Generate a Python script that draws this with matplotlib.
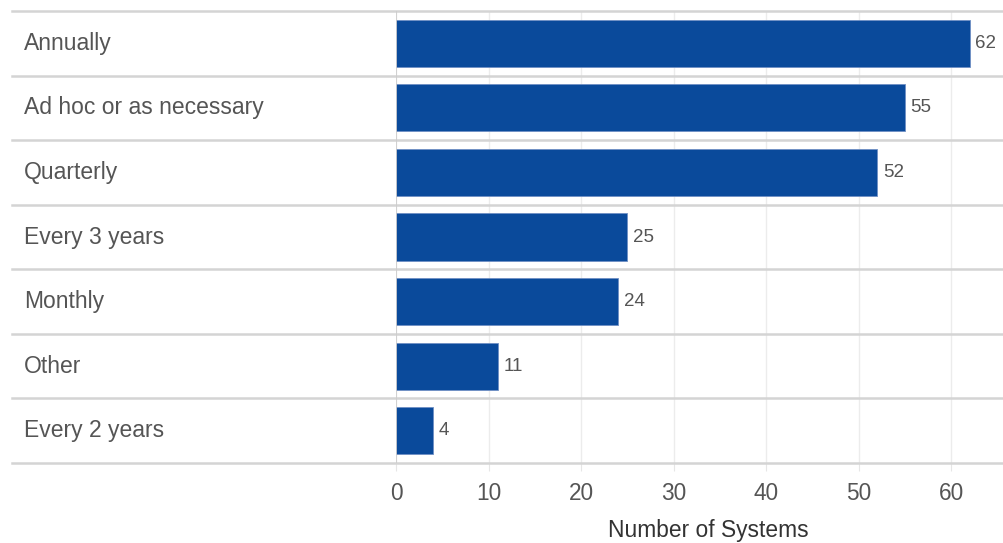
import matplotlib.pyplot as plt
from matplotlib.transforms import blended_transform_factory

categories = ['Annually', 'Ad hoc or as necessary', 'Quarterly', 'Every 3 years',
              'Monthly', 'Other', 'Every 2 years']
values = [62, 55, 52, 25, 24, 11, 4]
xticks = [0, 10, 20, 30, 40, 50, 60]

plt.rcParams['font.family'] = ['Liberation Sans', 'DejaVu Sans']

W, H = 1004, 543
fig = plt.figure(figsize=(W / 100, H / 100), dpi=100)
ax = fig.add_axes([396 / W, 1 - 463 / H, 1 - 396 / W, (463 - 11) / H])

ypos = list(range(len(categories)))
bars = ax.barh(ypos, values, height=0.73, color='#0a4a9b', edgecolor='#6f8fc4',
               linewidth=0.6, zorder=3)
ax.bar_label(bars, labels=[str(v) for v in values], padding=4, fontsize=13.5,
             color='#555555')

ax.set_ylim(len(categories) - 0.5, -0.5)
ax.set_xlim(0, 65.7)
ax.set_yticks([])
ax.set_xticks(xticks)
ax.tick_params(axis='x', length=6, color='#e6e6e6', labelsize=16.3,
               labelcolor='#555555', pad=8)
ax.grid(axis='x', color='#ececec', linewidth=1, zorder=0)
ax.axvline(0, color='#cccccc', linewidth=1.2, zorder=4)
for s in ax.spines.values():
    s.set_visible(False)

ax.set_xlabel('Number of Systems', fontsize=16.4, color='#333333', labelpad=10,
              x=0.513)

# row separators and category labels spanning the left table area
tr = blended_transform_factory(fig.transFigure, ax.transData)
for i in range(len(categories) + 1):
    ax.plot([12 / W, 1], [i - 0.5, i - 0.5], transform=tr, color='#d4d4d4',
            linewidth=1.8, clip_on=False, zorder=2)
for i, c in enumerate(categories):
    ax.text(24 / W, i, c, transform=tr, ha='left', va='center', fontsize=16.5,
            color='#555555')

fig.savefig('out.png', dpi=100)
